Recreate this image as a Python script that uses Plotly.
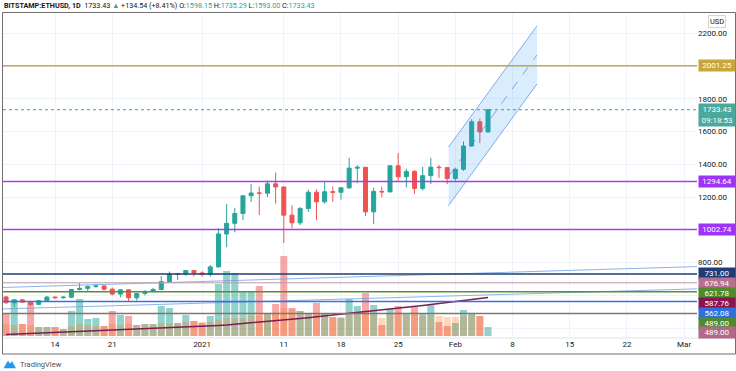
import plotly.graph_objects as go
import pandas as pd

# ---------------- data ----------------
dates = pd.date_range('2020-12-08', '2021-02-05').strftime('%Y-%m-%d').tolist()

open_ = [591, 555, 573, 559, 545, 568, 590, 586, 589, 636, 643, 655, 658, 638, 608, 634, 585, 612, 625, 636,
         684, 731, 732, 752, 737, 729, 774, 975, 1040, 1100, 1208, 1225, 1224, 1281, 1262, 1090, 1043, 1130, 1230, 1171,
         1233, 1230, 1257, 1377, 1382, 1110, 1235, 1232, 1391, 1324, 1357, 1253, 1331, 1383, 1380, 1314, 1370, 1512, 1660, 1598.15]
high = [594, 576, 575, 561, 572, 596, 592, 596, 640, 676, 660, 668, 660, 648, 636, 637, 612, 630, 646, 718,
        746, 738, 754, 754, 747, 786, 1010, 1157, 1135, 1210, 1280, 1265, 1302, 1350, 1262, 1150, 1140, 1245, 1248, 1290,
        1265, 1260, 1440, 1395, 1385, 1258, 1265, 1395, 1470, 1373, 1365, 1385, 1440, 1395, 1385, 1380, 1540, 1676, 1680, 1735.29]
low = [550, 530, 555, 535, 543, 565, 580, 580, 583, 630, 625, 646, 630, 600, 589, 560, 568, 600, 620, 631,
       681, 695, 720, 716, 715, 715, 770, 895, 985, 1060, 1170, 1090, 1200, 1160, 920, 1010, 1030, 1110, 1060, 1160,
       1170, 1185, 1250, 1285, 1085, 1035, 1200, 1230, 1300, 1260, 1220, 1240, 1280, 1315, 1280, 1300, 1360, 1510, 1530, 1593.00]
close = [555, 573, 559, 545, 568, 590, 586, 589, 636, 643, 655, 658, 638, 608, 634, 585, 612, 625, 636, 684,
         731, 732, 752, 737, 729, 774, 975, 1040, 1100, 1208, 1225, 1224, 1281, 1262, 1090, 1043, 1130, 1230, 1171, 1233,
         1230, 1257, 1377, 1382, 1110, 1235, 1232, 1391, 1324, 1357, 1253, 1331, 1383, 1380, 1314, 1370, 1512, 1660, 1598.15, 1733.43]

volume = [23, 36, 12, 33, 9, 9, 9, 7, 25, 37, 17, 18, 10, 25, 21, 20, 11, 12, 12, 30, 28, 13, 21, 15,
          13, 20, 52, 65, 63, 44, 44, 50, 23, 32, 80, 28, 25, 23, 33, 23, 19, 18, 37, 30, 43, 31, 11, 27, 30, 23, 29, 23, 31, 14, 10,
          13, 26, 22, 20, 9]
volume2 = [12, 11, 12, 11, 9, 9, 9, 7, 10, 12, 11, 10, 10, 12, 11, 12, 11, 12, 12, 13, 13, 13, 14, 15,
           14, 14, 16, 18, 18, 18, 20, 20, 22, 23, 28, 27, 25, 23, 23, 23, 19, 19, 22, 22, 25, 22, 18, 22, 24, 21, 24, 20, 21, 20, 19,
           19, 20, 21, 20, None]

ma200 = [362, 364, 366, 368, 369, 371, 373, 375, 377, 379, 381, 383, 385, 387, 389, 391, 393, 395, 397, 399,
         401, 404, 406, 409, 411, 414, 417, 420, 424, 428, 432, 436, 440, 444, 449, 454, 459, 464, 469, 474,
         479, 484, 489, 494, 499, 504, 510, 515, 521, 527, 532, 538, 544, 550, 556, 562, 568, 575, 581, 587.76]

# channel drawing
channel_dates = ['2021-01-31 04:00', '2021-02-11 00:00']
channel_upper = [1506, 2246]
channel_lower = [1148, 1891]
channel_mid = [1327, 2068]

# extended trend lines
trend_dates = ['2020-12-07 06:00', '2021-03-02 14:00']
trend_a = [648, 776]
trend_b = [517, 640]

# horizontal levels: (price, line colour, label colour, width)
levels = [
    (2001.25, '#c8a74a', '#c9a63c', 1.5),
    (1294.64, '#a23fe8', '#9b34f5', 1.5),
    (1002.74, '#a23fe8', '#9b34f5', 1.5),
    (731.00, '#1f3d74', '#1f3d74', 1.5),
    (676.94, '#b89aac', '#b5718f', 1),
    (621.78, '#5b8f33', '#4f8a2c', 1.5),
    (562.08, '#3f72d8', '#2f6fdc', 1.5),
    (489.00, '#857468', '#4e8b30', 1.5),
]
extra_labels = [(587.76, '#8a1450'), (489.00, '#b06a88')]

last_price = 1733.43
countdown = '09:18:53'

x_tick_vals = ['2020-12-14', '2020-12-21', '2021-01-01', '2021-01-11', '2021-01-18', '2021-01-25',
               '2021-02-01', '2021-02-08', '2021-02-15', '2021-02-22', '2021-03-01']
x_tick_text = ['14', '21', '2021', '11', '18', '25', 'Feb', '8', '15', '22', 'Mar']
y_tick_vals = [400, 600, 800, 1000, 1200, 1400, 1600, 1800, 2000, 2200]
y_tick_hidden = [400, 600, 1000, 2000]

# ---------------- layout helpers ----------------
W, H = 736, 371
L, R, T, B = 3, 697, 13, 338


def px(x):
    return (x - L) / (R - L)


def py(y):
    return (B - y) / (B - T)


UP, DOWN = '#26a69a', '#ef5350'
FONT = 'Roboto'

fig = go.Figure()

# volume (main hidden y axis)
vol_colors = ['rgba(38,166,154,0.5)' if c >= o else 'rgba(239,83,80,0.5)' for o, c in zip(open_, close)]
bar_w = 0.86 * 86400000
fig.add_trace(go.Bar(x=dates, y=volume, marker=dict(color=vol_colors, line=dict(width=0)), width=bar_w,
                     yaxis='y', showlegend=False))
fig.add_trace(go.Bar(x=dates, y=volume2, marker=dict(color='rgba(245,130,40,0.32)', line=dict(width=0)), width=bar_w,
                     yaxis='y', showlegend=False))

# channel
fig.add_trace(go.Scatter(x=channel_dates + channel_dates[::-1], y=channel_upper + channel_lower[::-1],
                         fill='toself', fillcolor='rgba(33,150,243,0.17)', line=dict(width=0), mode='lines',
                         yaxis='y2', showlegend=False))
for ys, dash in [(channel_upper, 'solid'), (channel_lower, 'solid'), (channel_mid, 'dash')]:
    fig.add_trace(go.Scatter(x=channel_dates, y=ys, mode='lines',
                             line=dict(color='rgba(60,120,220,0.6)', width=1, dash=dash),
                             yaxis='y2', showlegend=False))

# trend lines
for ys in (trend_a, trend_b):
    fig.add_trace(go.Scatter(x=trend_dates, y=ys, mode='lines', line=dict(color='rgba(110,160,225,0.8)', width=1),
                             yaxis='y2', showlegend=False))

# MA line
fig.add_trace(go.Scatter(x=dates, y=ma200, mode='lines', line=dict(color='#7a1d55', width=1.5),
                         yaxis='y2', showlegend=False))

# candles
fig.add_trace(go.Candlestick(x=dates, open=open_, high=high, low=low, close=close,
                             increasing=dict(line=dict(color=UP, width=1), fillcolor=UP),
                             decreasing=dict(line=dict(color=DOWN, width=1), fillcolor=DOWN),
                             yaxis='y2', showlegend=False))

shapes = []
for price, lc, _, w in levels:
    shapes.append(dict(type='line', xref='paper', x0=0, x1=1, yref='y2', y0=price, y1=price,
                       line=dict(color=lc, width=w), layer='above'))
shapes.append(dict(type='line', xref='paper', x0=0, x1=1, yref='y2', y0=last_price, y1=last_price,
                   line=dict(color=UP, width=1, dash='dot'), layer='above'))
# frame
frame_c = '#6f6f6f'
shapes.append(dict(type='line', xref='paper', yref='paper', x0=px(2.5), x1=px(735.5), y0=py(12.5), y1=py(12.5),
                   line=dict(color=frame_c, width=1)))
shapes.append(dict(type='line', xref='paper', yref='paper', x0=px(2.5), x1=px(2.5), y0=py(12.5), y1=py(354),
                   line=dict(color=frame_c, width=1)))
shapes.append(dict(type='line', xref='paper', yref='paper', x0=px(735.5), x1=px(735.5), y0=py(12.5), y1=py(354),
                   line=dict(color=frame_c, width=1)))
shapes.append(dict(type='line', xref='paper', yref='paper', x0=px(2.5), x1=px(735.5), y0=py(354), y1=py(354),
                   line=dict(color=frame_c, width=1)))
shapes.append(dict(type='line', xref='paper', yref='paper', x0=0, x1=px(735), y0=0, y1=0,
                   line=dict(color='#e0e3eb', width=1)))
# TradingView logo icon
pts = [(4, 368), (8, 361), (10, 364), (12, 361.5), (15.5, 368)]
path = 'M ' + ' L '.join(f'{px(a)},{py(b)}' for a, b in pts) + ' Z'
shapes.append(dict(type='path', xref='paper', yref='paper', path=path, fillcolor='#2196f3',
                   line=dict(color='#2196f3', width=0.5)))

annotations = []
lab_font = dict(family=FONT, size=8, color='white')
for price, _, bg, _ in levels[:3]:
    annotations.append(dict(xref='paper', yref='y2', x=px(698), y=price, xanchor='left', yanchor='middle',
                            text=f'{price:.2f}', showarrow=False, bgcolor=bg, font=lab_font, width=34, borderpad=1))
annotations.append(dict(xref='paper', yref='y2', x=px(698), y=last_price, xanchor='left', yanchor='middle',
                        text=f'{last_price:.2f}', showarrow=False, bgcolor='#4aa89c', font=lab_font, width=34, borderpad=1))
annotations.append(dict(xref='paper', yref='y2', x=px(698), y=last_price, yshift=-10.5, xanchor='left', yanchor='middle',
                        text=countdown, showarrow=False, bgcolor='#4aa89c', font=lab_font, width=34, borderpad=1))

# lower stacked labels (pushed apart when overlapping)
low_labels = [(p, bg) for p, _, bg, _ in levels[3:]] + extra_labels
low_labels.sort(key=lambda t: -t[0])
gap = 60.0
prev = None
for p, bg in low_labels:
    pos = p if prev is None else min(p, prev - gap)
    prev = pos
    annotations.append(dict(xref='paper', yref='y2', x=px(698), y=pos, xanchor='left', yanchor='middle',
                            text=f'{p:.2f}', showarrow=False, bgcolor=bg, font=lab_font, width=34, borderpad=1))

# USD label
annotations.append(dict(xref='paper', yref='paper', x=px(717), y=py(21.5), xanchor='center', yanchor='middle',
                        text='USD', showarrow=False, font=dict(family=FONT, size=7.5, color='#131722'),
                        bordercolor='#d1d4dc', borderwidth=1, borderpad=1))

# header
g = '#26a69a'
header = ('<b>BITSTAMP:ETHUSD, 1D</b>  1733.43 '
          f'<span style="color:{g}">▲</span> +134.54 (+8.41%) '
          f'O:<span style="color:{g}">1598.15</span> H:<span style="color:{g}">1735.29</span> '
          f'L:<span style="color:{g}">1593.00</span> C:<span style="color:{g}">1733.43</span>')
annotations.append(dict(xref='paper', yref='paper', x=px(2), y=py(5.5), xanchor='left', yanchor='middle',
                        text=header, showarrow=False, font=dict(family=FONT, size=7.2, color='#131722')))
annotations.append(dict(xref='paper', yref='paper', x=px(18), y=py(364.5), xanchor='left', yanchor='middle',
                        text='TradingView', showarrow=False, font=dict(family=FONT, size=7.5, color='#505050')))

fig.update_layout(
    width=W, height=H,
    margin=dict(l=L, r=W - R, t=T, b=H - B),
    paper_bgcolor='white', plot_bgcolor='white',
    barmode='overlay', boxgap=0.3,
    hovermode=False, showlegend=False,
    shapes=shapes, annotations=annotations,
    xaxis=dict(type='date', range=['2020-12-07 15:00', '2021-03-02 14:00'],
               tickvals=x_tick_vals, ticktext=x_tick_text,
               showgrid=True, gridcolor='#f0f3fa', gridwidth=1, zeroline=False, showline=False,
               ticks='', tickfont=dict(family=FONT, size=8, color='#131722'),
               rangeslider=dict(visible=False)),
    yaxis=dict(range=[-2, 323], visible=False, showgrid=False, fixedrange=True),
    yaxis2=dict(overlaying='y', side='right', range=[340, 2324],
                tickvals=y_tick_vals,
                ticktext=['' if v in y_tick_hidden else f'{v:.2f}' for v in y_tick_vals],
                showgrid=True, gridcolor='#f0f3fa', gridwidth=1, zeroline=False, showline=False,
                ticks='', tickfont=dict(family=FONT, size=8, color='#131722')),
)

fig.write_html('out.html', config={'displayModeBar': False},
               post_script="document.body.style.margin='0';document.body.style.padding='0';"
                           "document.body.style.overflow='hidden';")
